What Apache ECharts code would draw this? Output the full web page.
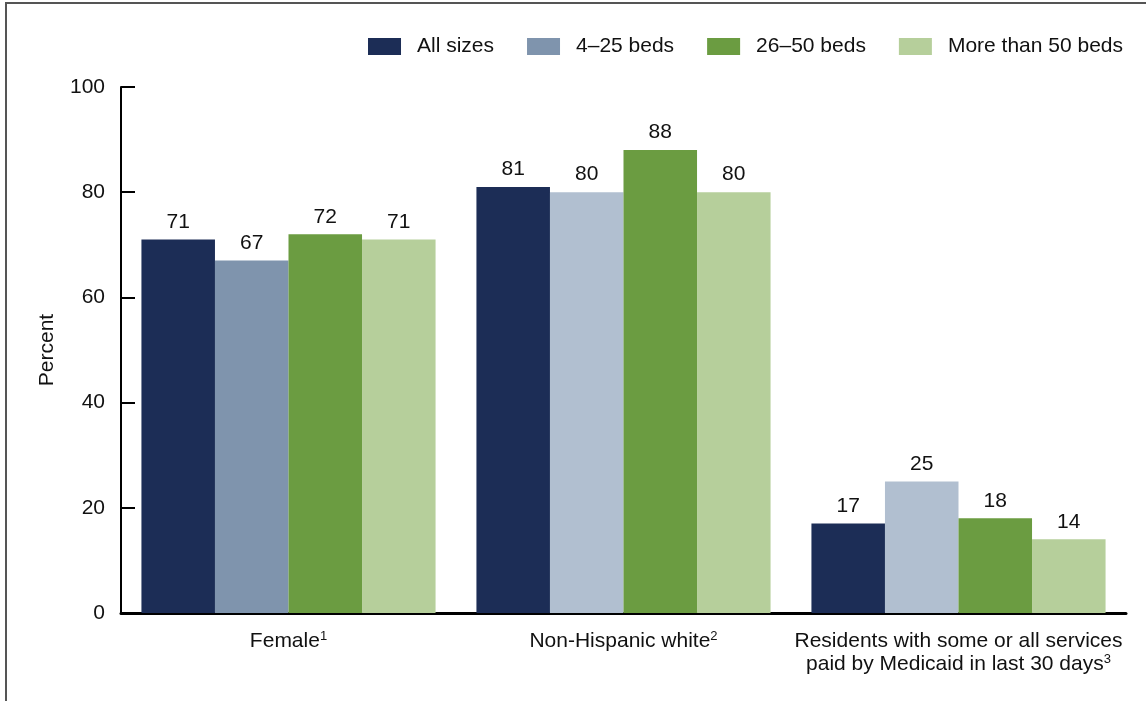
<!DOCTYPE html>
<html>
<head>
<meta charset="utf-8">
<script src="https://cdn.jsdelivr.net/npm/echarts@6/dist/echarts.min.js"></script>
<style>
html,body{margin:0;padding:0;background:#fff;}
#chart{width:1146px;height:701px;}
</style>
</head>
<body>
<div id="chart"></div>
<script>
var categories = ['Female', 'Non-Hispanic white', 'Residents with some or all services paid by Medicaid in last 30 days'];
var footnotes = ['1', '2', '3'];
var seriesNames = ['All sizes', '4\u201325 beds', '26\u201350 beds', 'More than 50 beds'];
var allSizes = [71, 81, 17];
var beds4to25 = [67, 80, 25];
var beds26to50 = [72, 88, 18];
var beds50plus = [71, 80, 14];
var yTicks = [0, 20, 40, 60, 80, 100];

var FONT = 'Liberation Sans, Arial, sans-serif';
var FS = 21;
var colors = ['#1c2d56', '#7f94ad', '#6b9c41', '#b6cf9b'];
var lightBlue = '#b1bfd0';

function mkSeries(name, data, color, idx) {
  return {
    name: name,
    type: 'bar',
    data: data.map(function (v, i) {
      var d = { value: v };
      if (idx === 1 && i > 0) d.itemStyle = { color: lightBlue };
      return d;
    }),
    itemStyle: { color: color },
    barGap: '0%',
    barCategoryGap: '12.2%',
    label: {
      show: true, position: 'top', distance: 7,
      color: '#111', fontFamily: FONT, fontSize: FS
    }
  };
}

var chart = echarts.init(document.getElementById('chart'), null, { renderer: 'canvas' });
chart.setOption({
  animation: false,
  backgroundColor: '#fff',
  textStyle: { fontFamily: FONT },
  grid: { left: 121, right: 20, top: 87, bottom: 88, containLabel: false },
  legend: {
    data: seriesNames,
    right: 18, top: 31,
    itemWidth: 33, itemHeight: 17, itemGap: 33,
    icon: 'rect',
    textStyle: { fontFamily: FONT, fontSize: FS, color: '#111', padding: [0, 0, 0, 11] }
  },
  xAxis: {
    type: 'category',
    data: categories,
    axisLine: { lineStyle: { color: '#000', width: 3 } },
    axisTick: { show: false },
    axisLabel: {
      interval: 0, margin: 17, color: '#111',
      formatter: function (v, i) {
        if (i === 2) {
          return '{a|Residents with some or all services}\n{a|paid by Medicaid in last 30 days}{s|' + footnotes[i] + '}';
        }
        return '{a|' + v + '}{s|' + footnotes[i] + '}';
      },
      rich: {
        a: { fontFamily: FONT, fontSize: FS, color: '#111', lineHeight: 23 },
        s: { fontFamily: FONT, fontSize: 13, color: '#111', lineHeight: 23, verticalAlign: 'top', padding: [0, 0, 6, 0] }
      }
    }
  },
  yAxis: {
    type: 'value',
    min: 0, max: 100, interval: 20,
    name: 'Percent',
    nameLocation: 'middle',
    nameGap: 63,
    nameRotate: 90,
    nameTextStyle: { fontFamily: FONT, fontSize: FS, color: '#111' },
    axisLine: { show: true, lineStyle: { color: '#000', width: 2 } },
    axisTick: { show: true, inside: true, length: 14, lineStyle: { color: '#000', width: 2 } },
    splitLine: { show: false },
    axisLabel: {
      margin: 16, color: '#111', fontFamily: FONT, fontSize: FS,
      formatter: function (v) { return yTicks.indexOf(v) >= 0 ? String(v) : ''; }
    }
  },
  graphic: [{
    type: 'polyline',
    shape: { points: [[6, 701], [6, 3], [1146, 3]] },
    style: { stroke: '#555', lineWidth: 2, fill: null },
    silent: true
  }],
  series: [
    mkSeries(seriesNames[0], allSizes, colors[0], 0),
    mkSeries(seriesNames[1], beds4to25, colors[1], 1),
    mkSeries(seriesNames[2], beds26to50, colors[2], 2),
    mkSeries(seriesNames[3], beds50plus, colors[3], 3)
  ]
});
</script>
</body>
</html>
